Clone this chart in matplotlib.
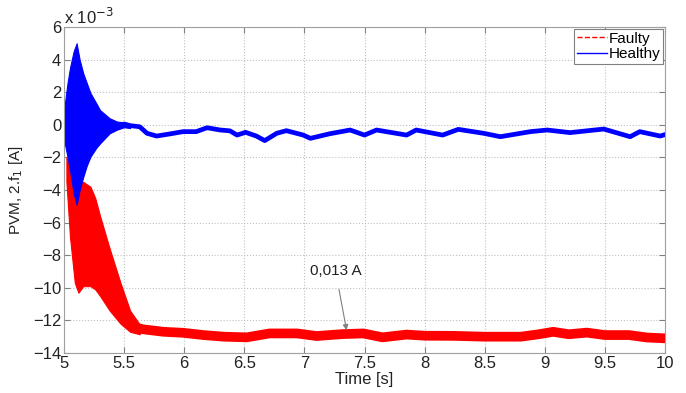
import numpy as np
import matplotlib
matplotlib.use('Agg')
import matplotlib.pyplot as plt
from matplotlib.lines import Line2D

plt.rcParams['font.family'] = 'Liberation Sans'
plt.rcParams['font.size'] = 11

# values in units of 1e-3 A
# transient oscillation envelopes
blue_env_t = [5.00, 5.03, 5.05, 5.08, 5.105, 5.13, 5.16, 5.19, 5.22, 5.27, 5.30, 5.38, 5.44, 5.50, 5.55]
blue_hi = [0.9, 2.6, 3.5, 4.5, 5.0, 4.0, 3.16, 2.55, 1.95, 1.3, 0.9, 0.4, 0.2, 0.15, 0.0]
blue_lo = [-0.9, -2.0, -2.8, -4.2, -4.9, -4.0, -3.2, -2.5, -1.96, -1.4, -1.14, -0.52, -0.3, -0.15, -0.2]

red_env_t = [5.02, 5.05, 5.09, 5.12, 5.16, 5.22, 5.26, 5.30, 5.38, 5.47, 5.55, 5.63]
red_hi = [-2.0, -2.5, -3.5, -3.6, -3.5, -3.8, -4.5, -5.6, -7.6, -9.7, -11.4, -12.25]
red_lo = [-3.5, -6.9, -9.7, -10.3, -9.9, -9.9, -10.1, -10.5, -11.4, -12.2, -12.7, -12.85]

# settled traces
blue_t = [5.50, 5.55, 5.63, 5.69, 5.77, 5.88, 5.99, 6.10, 6.19, 6.30, 6.38, 6.44, 6.51, 6.60,
          6.67, 6.77, 6.85, 6.99, 7.05, 7.21, 7.38, 7.50, 7.60, 7.85, 7.93, 8.15, 8.28, 8.49,
          8.63, 8.88, 9.02, 9.21, 9.49, 9.71, 9.79, 9.96, 10.0]
blue_mid = [0.05, -0.05, -0.12, -0.52, -0.69, -0.56, -0.42, -0.42, -0.18, -0.32, -0.37, -0.63,
            -0.46, -0.69, -0.97, -0.52, -0.36, -0.63, -0.83, -0.55, -0.32, -0.63, -0.32, -0.63,
            -0.32, -0.63, -0.28, -0.52, -0.73, -0.42, -0.32, -0.48, -0.26, -0.73, -0.42, -0.69, -0.6]

red_t = [5.60, 5.66, 5.83, 5.99, 6.16, 6.33, 6.52, 6.71, 6.94, 7.10, 7.32, 7.49, 7.65, 7.85,
         8.00, 8.25, 8.50, 8.80, 8.95, 9.07, 9.20, 9.35, 9.50, 9.70, 9.85, 10.0]
red_mid = [-12.45, -12.55, -12.7, -12.76, -12.9, -13.0, -13.04, -12.8, -12.8, -12.96, -12.84,
           -12.8, -13.04, -12.87, -12.94, -12.95, -13.0, -13.0, -12.85, -12.7, -12.85, -12.75,
           -12.9, -12.9, -13.05, -13.1]

xticks = [5, 5.5, 6, 6.5, 7, 7.5, 8, 8.5, 9, 9.5, 10]
xticklabels = ['5', '5.5', '6', '6.5', '7', '7.5', '8', '8.5', '9', '9.5', '10']
yticks = [-14, -12, -10, -8, -6, -4, -2, 0, 2, 4, 6]

fig = plt.figure(figsize=(6.86, 3.93), dpi=100)
ax = fig.add_axes([0.0933, 0.1018, 0.8761, 0.8295])

# faulty (red) below healthy (blue)
ax.fill_between(red_env_t, red_lo, red_hi, color='#ff0000', lw=0.8)
ax.plot(red_t, red_mid, color='#ff0000', lw=7, solid_capstyle='round', solid_joinstyle='round')
ax.fill_between(blue_env_t, blue_lo, blue_hi, color='#0000ff', lw=0.8)
ax.plot(blue_t, blue_mid, color='#0000ff', lw=3.4, solid_capstyle='round', solid_joinstyle='round')

ax.set_xlim(5, 10)
ax.set_ylim(-14, 6)
ax.set_xticks(xticks)
ax.set_xticklabels(xticklabels)
ax.set_yticks(yticks)
ax.grid(True, linestyle=':', color='#c0c0c0', lw=0.8)
ax.set_axisbelow(True)
ax.tick_params(direction='in', top=True, right=True, length=4, color='#808080',
               labelcolor='#222222', labelsize=12, pad=2)
for s in ax.spines.values():
    s.set_color('#a0a0a0')

ax.set_xlabel('Time [s]', fontsize=12, color='#222222', labelpad=1)
ax.set_ylabel('PVM, 2.f$_1$ [A]', fontsize=11, color='#222222', labelpad=6)
ax.text(0.0, 1.0, 'x 10$^{-3}$', transform=ax.transAxes, fontsize=12,
        color='#222222', ha='left', va='bottom')

ax.annotate('0,013 A', xy=(7.355, -12.77), xytext=(7.26, -9.0),
            fontsize=11, color='#222222', ha='center', va='center',
            arrowprops=dict(arrowstyle='-|>', color='#808080', lw=0.8,
                            mutation_scale=8, shrinkA=6))

handles = [Line2D([0], [0], color='#ff0000', ls='--', lw=1),
           Line2D([0], [0], color='#0000ff', ls='-', lw=1)]
leg = ax.legend(handles, ['Faulty', 'Healthy'], loc='upper right', fontsize=11,
                fancybox=False, framealpha=1, borderaxespad=0.1, handlelength=2.0,
                handletextpad=0.1, borderpad=0.2, labelspacing=0.1)
leg.get_frame().set_edgecolor('#808080')
leg.get_frame().set_linewidth(0.8)

fig.savefig('out.png', dpi=100)
